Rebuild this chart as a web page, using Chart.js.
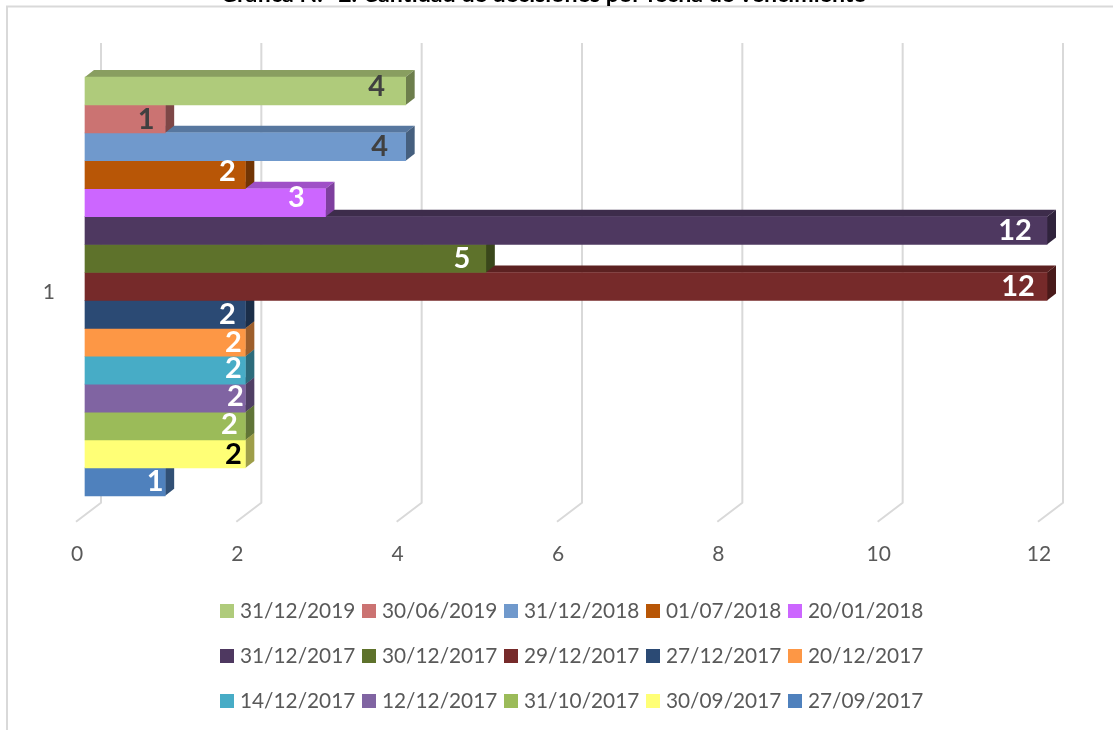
<!DOCTYPE html>
<html><head><meta charset="utf-8">
<style>html,body{margin:0;padding:0;background:#fff;overflow:hidden}#wrap{position:relative;width:1114px;height:730px}</style>
<script src="https://cdn.jsdelivr.net/npm/chart.js@4/dist/chart.umd.min.js"></script>
</head><body><div id="wrap"><canvas id="c" width="1114" height="730"></canvas></div>
<script>
const titleText = 'Gráfica N.° 2. Cantidad de decisiones por fecha de vencimiento';
const categories = ['1'];
const seriesNames = ['31/12/2019','30/06/2019','31/12/2018','01/07/2018','20/01/2018','31/12/2017','30/12/2017','29/12/2017','27/12/2017','20/12/2017','14/12/2017','12/12/2017','31/10/2017','30/09/2017','27/09/2017'];
const seriesValues = [4,1,4,2,3,12,5,12,2,2,2,2,2,2,1];
const seriesColors = ['#AFCB7B','#CB7372','#7099CC','#B85606','#CC66FF','#4E3860','#5E722B','#762A2A','#2B4A74','#FD9745','#47ACC6','#8064A2','#9BBB59','#FFFF76','#4F81BD'];
const labelColors = ['#404040','#404040','#404040','#fff','#fff','#fff','#fff','#fff','#fff','#fff','#fff','#fff','#fff','#000','#fff'];
const labelNudge = [[-29,-4],[-19,1],[-26,0],[-18,-3],[-29,-5],[-32,0],[-24,0],[-29,0],[-18,0],[-12,0],[-12,-2],[-10,-1],[-16,-1],[-12,1],[-10,0]];
const FONT = 'Lato, Carlito, sans-serif';
const DX = 9, DY = 7;
function shade(hex, f){
  const n = parseInt(hex.slice(1),16);
  return `rgb(${Math.round((n>>16&255)*f)},${Math.round((n>>8&255)*f)},${Math.round((n&255)*f)})`;
}
function poly(ctx, pts, fill){
  ctx.beginPath(); pts.forEach((p,i)=> i?ctx.lineTo(p[0],p[1]):ctx.moveTo(p[0],p[1])); ctx.closePath();
  ctx.fillStyle = fill; ctx.fill();
}
const scene = {
  id:'scene',
  afterLayout(chart){
    const t = chart.titleBlock;
    t.top = -19; t.bottom = 8; t.left += 20; t.right += 20;
  },
  beforeDraw(chart){
    const ctx = chart.ctx; ctx.save();
    ctx.strokeStyle = '#d9d9d9'; ctx.lineWidth = 2;
    ctx.beginPath(); ctx.moveTo(7,730); ctx.lineTo(7,6.5); ctx.lineTo(1113,6.5); ctx.stroke();
    ctx.restore();
  },
  beforeDatasetsDraw(chart){
    const ctx = chart.ctx, x = chart.scales.x, a = chart.chartArea;
    ctx.save(); ctx.strokeStyle = '#d9d9d9'; ctx.lineWidth = 2; ctx.lineJoin='round';
    x.ticks.forEach(t=>{
      const px = x.getPixelForValue(t.value);
      ctx.beginPath(); ctx.moveTo(px+16,a.top-34); ctx.lineTo(px+16,a.bottom+7); ctx.lineTo(px-9,a.bottom+26); ctx.stroke();
    });
    ctx.restore();
  },
  beforeDatasetDraw(chart, args){
    const el = args.meta.data[0], col = seriesColors[args.index], ctx = chart.ctx;
    const r = el.x, l = el.base, t = el.y - el.height/2, b = el.y + el.height/2;
    ctx.save();
    poly(ctx, [[l,t],[l+DX,t-DY],[r+DX,t-DY],[r,t]], shade(col,.78));
    poly(ctx, [[r,t],[r+DX,t-DY],[r+DX,b-DY],[r,b]], shade(col,.62));
    ctx.restore();
  },
  afterDatasetsDraw(chart){
    const ctx = chart.ctx; ctx.save();
    ctx.font = `bold 29px ${FONT}`; ctx.textAlign='center'; ctx.textBaseline='middle';
    chart.data.datasets.forEach((ds,i)=>{
      const el = chart.getDatasetMeta(i).data[0];
      ctx.fillStyle = labelColors[i];
      ctx.fillText(String(ds.data[0]), el.x+labelNudge[i][0], el.y+labelNudge[i][1]);
    });
    ctx.restore();
  },
  afterDraw(chart){
    const ctx = chart.ctx; ctx.save();
    ctx.font = `20.8px ${FONT}`; ctx.textBaseline='middle'; ctx.textAlign='left';
    chart.data.datasets.forEach((ds,i)=>{
      const col = i%5, row = Math.floor(i/5), x = 220+142*col, y = 611+45*row;
      ctx.fillStyle = ds.backgroundColor; ctx.fillRect(x,y-7,14,14);
      ctx.fillStyle = '#595959'; ctx.fillText(ds.label,x+20,y);
    });
    ctx.restore();
  }
};
new Chart(document.getElementById('c'),{
  type:'bar',
  data:{labels:categories,datasets:seriesNames.map((n,i)=>({label:n,data:[seriesValues[i]],backgroundColor:seriesColors[i],borderWidth:0,categoryPercentage:1,barPercentage:1,clip:false}))},
  options:{
    indexAxis:'y',responsive:false,animation:false,
    layout:{padding:{left:0,right:67,top:0,bottom:125}},
    plugins:{
      legend:{display:false},tooltip:{enabled:false},
      title:{display:true,text:titleText,color:'#000',font:{family:FONT,size:23.2,weight:'bold',lineHeight:1.2},padding:{top:0,bottom:49.2}}
    },
    scales:{
      x:{type:'linear',min:0,max:12,grid:{display:false},border:{display:false},
         ticks:{stepSize:2,padding:38,labelOffset:-8,maxRotation:0,color:'#595959',font:{family:FONT,size:21}}},
      y:{type:'category',grid:{display:false},border:{display:false},afterFit(s){s.width=85;},
         ticks:{padding:22,labelOffset:6,color:'#595959',font:{family:FONT,size:21}}}
    }
  },
  plugins:[scene]
});
</script></body></html>
